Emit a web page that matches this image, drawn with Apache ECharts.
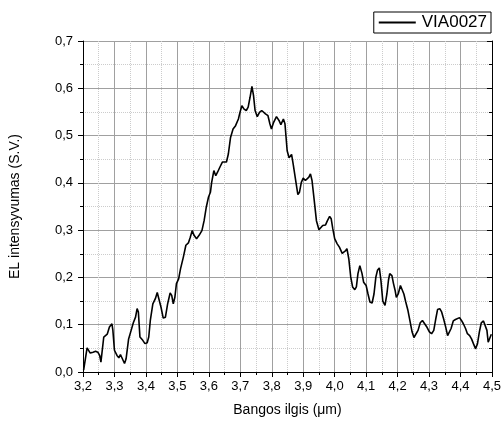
<!DOCTYPE html>
<html>
<head>
<meta charset="utf-8">
<script src="https://cdn.jsdelivr.net/npm/echarts@6/dist/echarts.min.js"></script>
<style>
html,body{margin:0;padding:0;background:#fff;}
#main{width:504px;height:428px;}
</style>
</head>
<body>
<div id="main"></div>
<script>
// wavelength (um) and EL intensity
var wl = [3.202,3.213,3.223,3.232,3.240,3.247,3.253,3.257,3.261,3.266,3.272,3.277,3.284,3.292,3.295,3.300,3.308,3.314,3.319,3.324,3.332,3.337,3.345,3.353,3.360,3.367,3.372,3.376,3.381,3.390,3.397,3.404,3.409,3.414,3.422,3.430,3.436,3.442,3.448,3.455,3.462,3.469,3.477,3.482,3.487,3.492,3.497,3.504,3.510,3.519,3.527,3.535,3.541,3.547,3.553,3.561,3.569,3.578,3.585,3.592,3.599,3.605,3.609,3.616,3.622,3.628,3.635,3.643,3.649,3.656,3.662,3.669,3.677,3.685,3.694,3.699,3.705,3.712,3.719,3.725,3.731,3.737,3.742,3.747,3.754,3.761,3.768,3.774,3.780,3.788,3.794,3.799,3.806,3.815,3.823,3.829,3.837,3.842,3.849,3.855,3.863,3.868,3.876,3.883,3.888,3.894,3.900,3.907,3.913,3.918,3.923,3.928,3.935,3.942,3.950,3.955,3.962,3.971,3.977,3.984,3.989,3.994,4.000,4.008,4.015,4.024,4.030,4.034,4.039,4.045,4.051,4.057,4.064,4.069,4.074,4.080,4.087,4.092,4.100,4.106,4.112,4.119,4.125,4.131,4.136,4.142,4.147,4.153,4.160,4.166,4.171,4.175,4.182,4.187,4.192,4.196,4.202,4.209,4.214,4.220,4.226,4.233,4.239,4.246,4.252,4.258,4.265,4.272,4.279,4.286,4.294,4.301,4.308,4.315,4.321,4.327,4.334,4.340,4.346,4.353,4.359,4.364,4.370,4.377,4.384,4.390,4.397,4.403,4.409,4.416,4.422,4.429,4.435,4.441,4.448,4.454,4.460,4.466,4.473,4.479,4.484,4.488,4.493,4.498];
var el = [0.004,0.051,0.040,0.042,0.044,0.042,0.035,0.021,0.025,0.074,0.077,0.080,0.095,0.102,0.088,0.046,0.035,0.030,0.037,0.033,0.018,0.028,0.070,0.088,0.104,0.116,0.134,0.127,0.074,0.067,0.060,0.062,0.074,0.109,0.144,0.155,0.168,0.165,0.137,0.114,0.116,0.144,0.167,0.162,0.144,0.158,0.187,0.197,0.218,0.243,0.268,0.273,0.285,0.299,0.289,0.282,0.289,0.299,0.320,0.349,0.370,0.380,0.401,0.426,0.415,0.423,0.433,0.444,0.440,0.444,0.461,0.496,0.514,0.521,0.535,0.549,0.563,0.556,0.553,0.560,0.581,0.604,0.585,0.553,0.540,0.549,0.553,0.549,0.546,0.542,0.525,0.514,0.528,0.540,0.532,0.523,0.535,0.525,0.468,0.453,0.460,0.440,0.405,0.375,0.380,0.401,0.410,0.405,0.403,0.412,0.419,0.405,0.363,0.320,0.301,0.299,0.310,0.311,0.320,0.329,0.324,0.303,0.282,0.271,0.264,0.251,0.250,0.256,0.261,0.239,0.201,0.180,0.174,0.180,0.208,0.225,0.208,0.190,0.183,0.165,0.148,0.146,0.165,0.201,0.215,0.220,0.194,0.150,0.141,0.165,0.194,0.208,0.204,0.187,0.173,0.158,0.165,0.183,0.180,0.165,0.148,0.130,0.109,0.085,0.073,0.074,0.088,0.104,0.109,0.102,0.094,0.085,0.081,0.088,0.111,0.132,0.134,0.127,0.113,0.095,0.077,0.074,0.092,0.108,0.111,0.111,0.115,0.109,0.102,0.092,0.081,0.077,0.070,0.060,0.049,0.060,0.085,0.104,0.108,0.106,0.088,0.063,0.060,0.080];

var seriesName = 'VIA0027';
var xName = 'Bangos ilgis (\u03bcm)';
var yName = 'EL intensyvumas (S.V.)';

var pts = [];
for (var i = 0; i < wl.length; i++) {
    pts.push([wl[i], el[i]]);
}

function comma(v) {
    return v.toFixed(1).replace('.', ',');
}

var font = 'Liberation Sans, Arial, sans-serif';

var myChart = echarts.init(document.getElementById('main'));
var option = {
    animation: false,
    grid: {left: 83, right: 10, top: 41, bottom: 56},
    legend: {
        data: [seriesName],
        right: 13,
        top: 12,
        icon: 'rect',
        itemWidth: 37,
        itemHeight: 2,
        itemGap: 6,
        padding: [2, 4, 2, 5],
        borderColor: '#000',
        borderWidth: 1,
        textStyle: {fontFamily: font, fontSize: 17, color: '#000', padding: [0, 0, 0, 1]}
    },
    xAxis: [
        {
            type: 'value', min: 3.2, max: 4.5, interval: 0.1,
            position: 'bottom',
            name: xName, nameLocation: 'middle', nameGap: 31,
            nameTextStyle: {fontFamily: font, fontSize: 14, color: '#000'},
            axisLine: {show: true, lineStyle: {color: '#000', width: 1}},
            axisTick: {show: true, length: 5, inside: false, lineStyle: {color: '#000'}},
            minorTick: {show: true, splitNumber: 2, length: 3, lineStyle: {color: '#000'}},
            axisLabel: {formatter: comma, fontFamily: font, fontSize: 13, color: '#000', margin: 8},
            splitLine: {show: true, lineStyle: {color: '#a0a0a0', width: 1}},
            minorSplitLine: {show: true, lineStyle: {color: '#cccccc', type: 'dotted', width: 1}}
        },
        {
            type: 'value', min: 3.2, max: 4.5, interval: 0.1,
            position: 'top',
            axisLine: {show: true, lineStyle: {color: '#000', width: 1}},
            axisTick: {show: true, length: 5, inside: true, lineStyle: {color: '#000'}},
            minorTick: {show: true, splitNumber: 2, length: 3, lineStyle: {color: '#000'}},
            axisLabel: {show: false},
            splitLine: {show: false}
        }
    ],
    yAxis: [
        {
            type: 'value', min: 0, max: 0.7, interval: 0.1,
            position: 'left',
            name: yName, nameLocation: 'middle', nameGap: 61, nameRotate: 90,
            nameTextStyle: {fontFamily: font, fontSize: 14, color: '#000'},
            axisLine: {show: true, lineStyle: {color: '#000', width: 1}},
            axisTick: {show: true, length: 5, inside: false, lineStyle: {color: '#000'}},
            minorTick: {show: true, splitNumber: 2, length: 3, lineStyle: {color: '#000'}},
            axisLabel: {formatter: comma, fontFamily: font, fontSize: 13, color: '#000', margin: 10},
            splitLine: {show: true, lineStyle: {color: '#a0a0a0', width: 1}},
            minorSplitLine: {show: true, lineStyle: {color: '#cccccc', type: 'dotted', width: 1}}
        },
        {
            type: 'value', min: 0, max: 0.7, interval: 0.1,
            position: 'right',
            axisLine: {show: true, lineStyle: {color: '#000', width: 1}},
            axisTick: {show: true, length: 5, inside: true, lineStyle: {color: '#000'}},
            minorTick: {show: true, splitNumber: 2, length: 3, lineStyle: {color: '#000'}},
            axisLabel: {show: false},
            splitLine: {show: false}
        }
    ],
    series: [
        {
            name: seriesName,
            type: 'line',
            xAxisIndex: 0,
            yAxisIndex: 0,
            data: pts,
            symbol: 'none',
            smooth: false,
            lineStyle: {color: '#000', width: 1.6},
            itemStyle: {color: '#000'}
        }
    ]
};
myChart.setOption(option);
</script>
</body>
</html>
